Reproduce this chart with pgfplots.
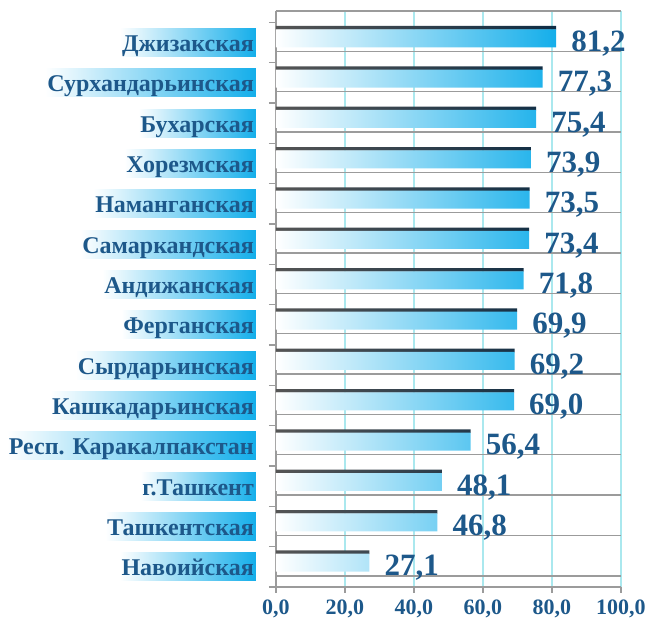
\documentclass[border=0pt]{standalone}
\usepackage{fontspec}
\setmainfont{Liberation Serif}
\usepackage{pgfplots}
\pgfplotsset{compat=1.18}

\definecolor{txtblue}{RGB}{29,88,138}
\definecolor{barcyan}{RGB}{20,174,234}
\definecolor{stripgray}{RGB}{85,85,85}
\definecolor{stripnavy}{RGB}{14,44,68}
\definecolor{gridcyan}{RGB}{170,232,238}
\definecolor{floorgray}{RGB}{155,155,155}

% rows from bottom (0) to top (13)
\pgfplotstableread{
val row
27.1 0
46.8 1
48.1 2
56.4 3
69.0 4
69.2 5
69.9 6
71.8 7
73.4 8
73.5 9
73.9 10
75.4 11
77.3 12
81.2 13
}\shares

\begin{document}
\begin{tikzpicture}
\begin{axis}[
    scale only axis,
    width=345pt, height=576pt,
    xmin=0, xmax=100,
    ymin=-0.5, ymax=13.78,
    clip=false,
    axis x line*=bottom,
    axis y line*=left,
    axis line style={floorgray, line width=1.6pt},
    tick align=outside,
    xtick={0,20,...,100},
    x tick style={floorgray, line width=1.4pt},
    major tick length=6pt,
    xmajorgrids,
    major x grid style={gridcyan, line width=1.2pt},
    /pgf/number format/fixed,
    /pgf/number format/fixed zerofill,
    /pgf/number format/precision=1,
    /pgf/number format/use comma,
    /pgf/number format/assume math mode=true,
    xticklabel style={font=\fontsize{22}{22}\selectfont\bfseries, text=txtblue, yshift=-3pt},
    ytick={0,...,13},
    yticklabels={Навоийская, Ташкентская, г.Ташкент, Респ. Каракалпакстан,
        Кашкадарьинская, Сырдарьинская, Ферганская, Андижанская,
        Самаркандская, Наманганская, Хорезмская, Бухарская,
        Сурхандарьинская, Джизакская},
    y tick style={draw=none},
    yticklabel style={font=\fontsize{24}{24}\selectfont\bfseries, text=txtblue,
        left color=white, right color=barcyan,
        inner xsep=2pt, inner ysep=0pt, text height=23pt, text depth=5pt,
        anchor=east, xshift=-14pt},
    minor ytick={-0.5,0.5,...,13.5},
    minor y tick style={draw=floorgray, line width=1.4pt},
    minor tick length=7pt,
    extra y ticks={-0.22,0.78,...,13.78},
    extra y tick labels={},
    extra y tick style={grid=major, tick style={draw=none},
        major grid style={floorgray, line width=1.6pt},
        yticklabel style={opacity=0, inner sep=0pt, text height=0pt, text depth=0pt}},
]
% dark strip on top of each bar
\addplot[xbar, bar width=0.09, bar shift=0.363, draw=none,
    left color=stripgray, right color=stripnavy]
    table[x=val, y=row] {\shares};
% main bar
\addplot[xbar, bar width=0.446, bar shift=0.103, draw=none,
    left color=white, right color=barcyan,
    point meta=x,
    nodes near coords,
    every node near coord/.append style={font=\fontsize{31}{31}\selectfont\bfseries,
        text=txtblue, anchor=base west, inner sep=0pt, xshift=15pt, yshift=-9pt}]
    table[x=val, y=row] {\shares};
\coordinate (tl) at (rel axis cs:0,1);
\coordinate (br) at (rel axis cs:1,0);
\end{axis}
\pgfresetboundingbox
\path ([shift={(-276pt,11pt)}]tl) rectangle ([shift={(28pt,-37pt)}]br);
\end{tikzpicture}
\end{document}
